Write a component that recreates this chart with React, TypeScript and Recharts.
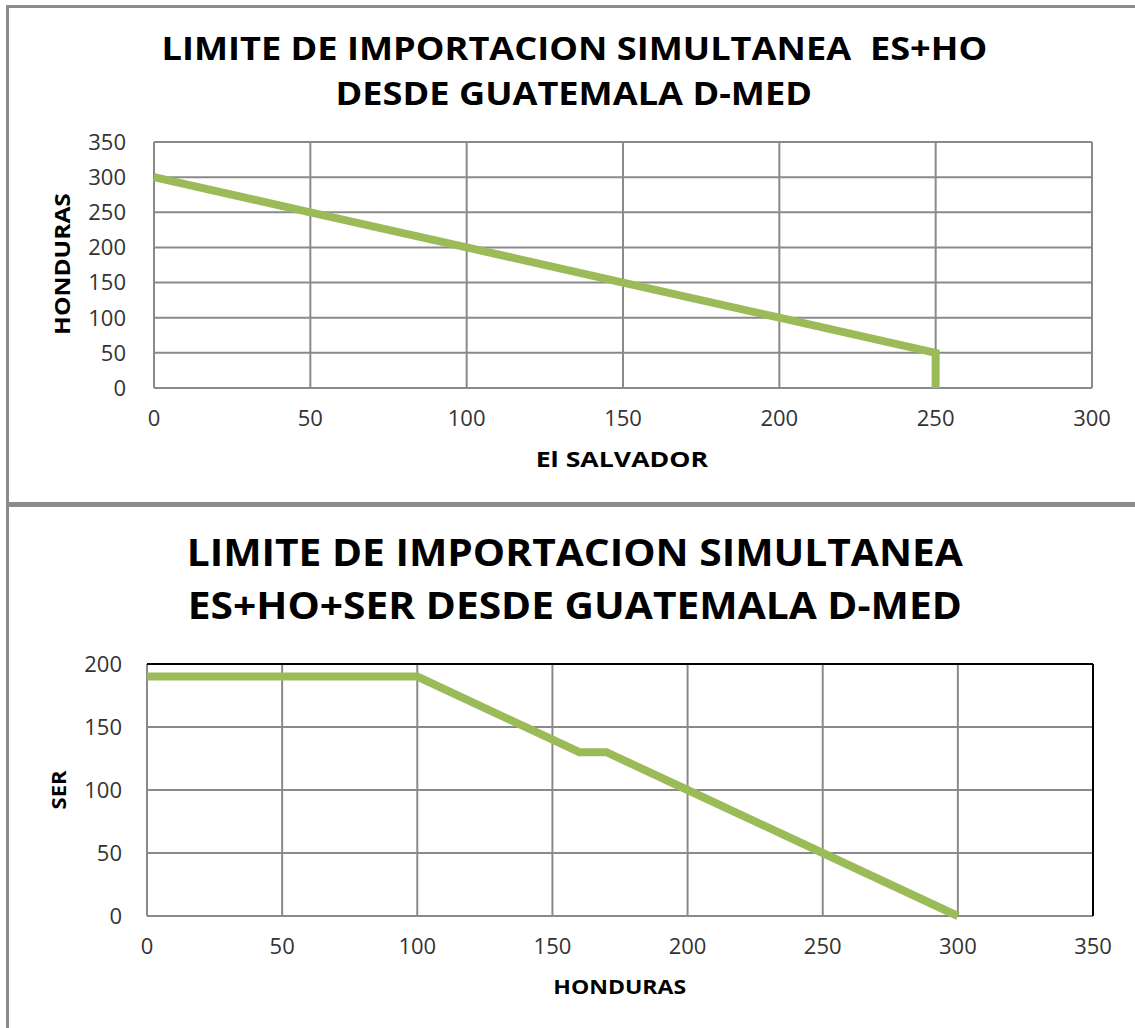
import { LineChart, Line, XAxis, YAxis, CartesianGrid, ReferenceLine } from "recharts";

// chart 1: El Salvador (x) vs Honduras (y)
const esValues = [0, 50, 100, 150, 200, 250, 250];
const hoValues = [300, 250, 200, 150, 100, 50, 0];
const topXTicks = [0, 50, 100, 150, 200, 250, 300];
const topYTicks = [0, 50, 100, 150, 200, 250, 300, 350];

// chart 2: Honduras (x) vs SER (y)
const hoValues2 = [0, 100, 160, 170, 200, 250, 300];
const serValues = [190, 190, 130, 130, 100, 50, 0];
const botXTicks = [0, 50, 100, 150, 200, 250, 300, 350];
const botYTicks = [0, 50, 100, 150, 200];

const topData = esValues.map((es, i) => ({ es, ho: hoValues[i] }));
const botData = hoValues2.map((ho, i) => ({ ho, ser: serValues[i] }));

const GREEN = "#9bbb59";
const GRID = "#8a8a8a";
const FONT = "'Open Sans', sans-serif";
const tickStyle = { fontFamily: FONT, fontSize: 22, fill: "#333" };

// text stretched sideways, like the source picture
function Wide({ sx, children }: { sx: number; children: any }) {
  return (
    <span style={{ display: "inline-block", transform: `scaleX(${sx})`, whiteSpace: "pre" }}>
      {children}
    </span>
  );
}

export default function App() {
  return (
    <div
      style={{
        position: "absolute",
        left: 0,
        top: 0,
        width: 1135,
        height: 1028,
        overflow: "hidden",
        background: "#fff",
        fontFamily: FONT,
      }}
    >
      {/* frames */}
      <div
        style={{
          position: "absolute",
          left: 6,
          top: 5,
          width: 1200,
          height: 496,
          border: "3px solid #8c8c8c",
        }}
      />
      <div
        style={{
          position: "absolute",
          left: 6,
          top: 502,
          width: 1200,
          height: 600,
          border: "3px solid #8c8c8c",
        }}
      />

      {/* top chart */}
      <div
        style={{
          position: "absolute",
          left: 0,
          top: 25,
          width: 1148,
          textAlign: "center",
          fontWeight: 700,
          fontSize: 32,
          lineHeight: "45px",
          color: "#000",
        }}
      >
        <div>
          <Wide sx={1.13}>LIMITE DE IMPORTACION SIMULTANEA  ES+HO</Wide>
        </div>
        <div>
          <Wide sx={1.13}>DESDE GUATEMALA D-MED</Wide>
        </div>
      </div>
      <div style={{ position: "absolute", left: 0, top: 0 }}>
        <LineChart
          width={1135}
          height={500}
          data={topData}
          margin={{ top: 142, left: 94, right: 43, bottom: 72 }}
        >
          <CartesianGrid stroke={GRID} strokeWidth={2} />
          <XAxis
            type="number"
            dataKey="es"
            domain={[0, 300]}
            ticks={topXTicks}
            height={40}
            axisLine={false}
            tickLine={false}
            tickSize={0}
            tickMargin={22}
            tick={tickStyle}
          />
          <YAxis
            type="number"
            domain={[0, 350]}
            ticks={topYTicks}
            width={60}
            axisLine={false}
            tickLine={false}
            tickSize={0}
            tickMargin={28}
            tick={tickStyle}
          />
          <Line
            type="linear"
            dataKey="ho"
            stroke={GREEN}
            strokeWidth={8}
            dot={false}
            isAnimationActive={false}
          />
        </LineChart>
      </div>
      <div
        style={{
          position: "absolute",
          left: 472,
          top: 445,
          width: 300,
          textAlign: "center",
          fontWeight: 700,
          fontSize: 21,
        }}
      >
        <Wide sx={1.27}>El SALVADOR</Wide>
      </div>
      <div
        style={{
          position: "absolute",
          left: 62,
          top: 264,
          transform: "translate(-50%, -50%) rotate(-90deg) scaleX(1.17)",
          fontWeight: 700,
          fontSize: 21,
          whiteSpace: "nowrap",
        }}
      >
        HONDURAS
      </div>

      {/* bottom chart */}
      <div
        style={{
          position: "absolute",
          left: 0,
          top: 525,
          width: 1150,
          textAlign: "center",
          fontWeight: 700,
          fontSize: 37,
          lineHeight: "53px",
          color: "#000",
        }}
      >
        <div>
          <Wide sx={1.1}>LIMITE DE IMPORTACION SIMULTANEA</Wide>
        </div>
        <div>
          <Wide sx={1.1}>ES+HO+SER DESDE GUATEMALA D-MED</Wide>
        </div>
      </div>
      <div style={{ position: "absolute", left: 0, top: 500 }}>
        <LineChart
          width={1135}
          height={528}
          data={botData}
          margin={{ top: 164, left: 87, right: 42, bottom: 72 }}
        >
          <CartesianGrid stroke={GRID} strokeWidth={2} />
          <XAxis
            type="number"
            dataKey="ho"
            domain={[0, 350]}
            ticks={botXTicks}
            height={40}
            axisLine={false}
            tickLine={false}
            tickSize={0}
            tickMargin={22}
            tick={tickStyle}
          />
          <YAxis
            type="number"
            domain={[0, 200]}
            ticks={botYTicks}
            width={60}
            axisLine={false}
            tickLine={false}
            tickSize={0}
            tickMargin={25}
            tick={tickStyle}
          />
          <ReferenceLine y={200} stroke="#000" strokeWidth={2} />
          <ReferenceLine x={350} stroke="#000" strokeWidth={2} />
          <Line
            type="linear"
            dataKey="ser"
            stroke={GREEN}
            strokeWidth={8}
            dot={false}
            isAnimationActive={false}
          />
        </LineChart>
      </div>
      <div
        style={{
          position: "absolute",
          left: 470,
          top: 973,
          width: 300,
          textAlign: "center",
          fontWeight: 700,
          fontSize: 20,
        }}
      >
        <Wide sx={1.15}>HONDURAS</Wide>
      </div>
      <div
        style={{
          position: "absolute",
          left: 58,
          top: 790,
          transform: "translate(-50%, -50%) rotate(-90deg) scaleX(1.1)",
          fontWeight: 700,
          fontSize: 20,
          whiteSpace: "nowrap",
        }}
      >
        SER
      </div>
    </div>
  );
}
